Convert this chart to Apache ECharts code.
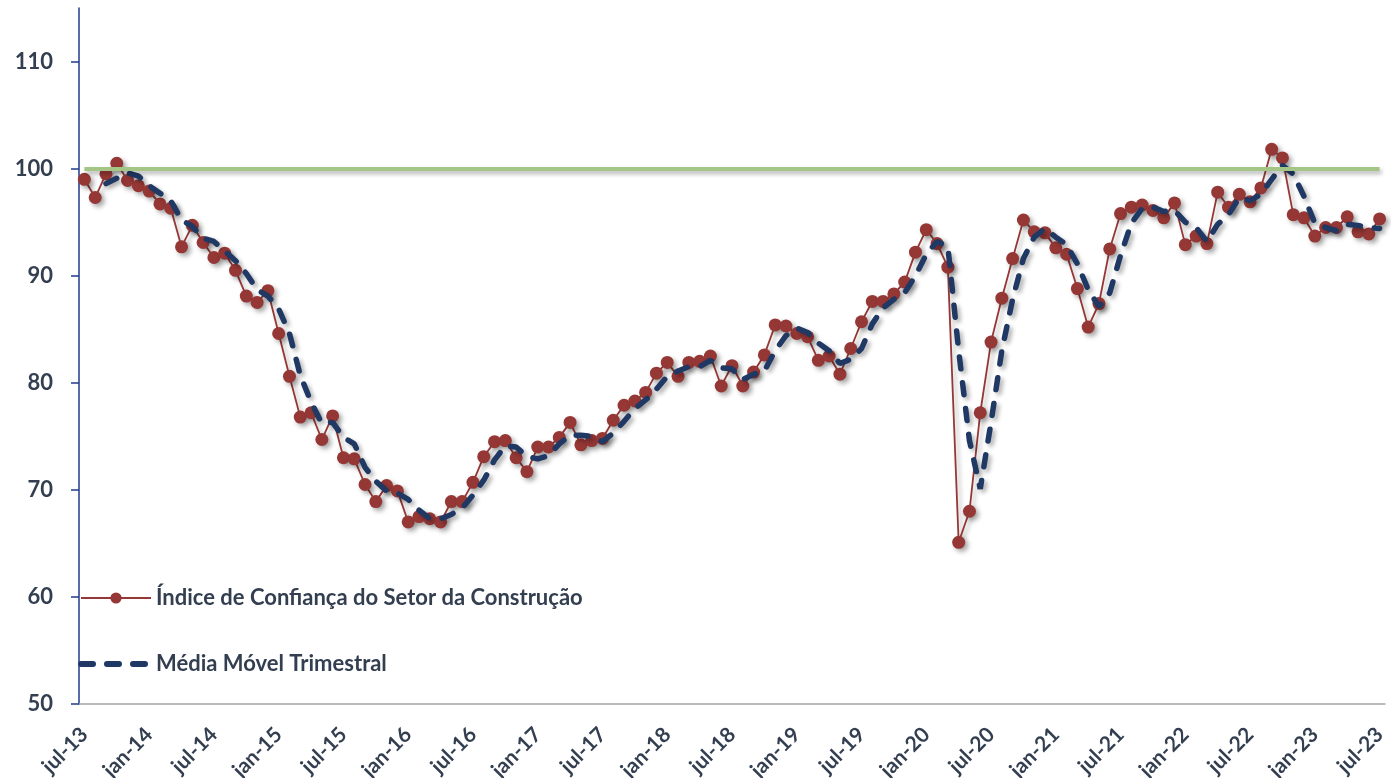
<!DOCTYPE html>
<html>
<head>
<meta charset="utf-8">
<script src="https://cdn.jsdelivr.net/npm/echarts@6/dist/echarts.min.js"></script>
<style>
html,body{margin:0;padding:0;background:#fff;}
#chart{width:1391px;height:778px;}
</style>
</head>
<body>
<div id="chart"></div>
<script>
// meses em português, série mensal de jul-13 a jul-23
var meses = ['jan','fev','mar','abr','mai','jun','jul','ago','set','out','nov','dez'];
var categorias = [];
for (var k = 0; k < 121; k++) {
	var m = (6 + k) % 12;
	var a = 13 + Math.floor((6 + k) / 12);
	categorias.push(meses[m] + '-' + a);
}

// Índice de Confiança do Setor da Construção
var indice = [
	99.0, 97.3, 99.5, 100.5, 98.9, 98.4, 97.9, 96.7, 96.3, 92.7, 94.7, 93.1,
	91.7, 92.1, 90.5, 88.1, 87.5, 88.6, 84.6, 80.6, 76.8, 77.2, 74.7, 76.9,
	73.0, 72.9, 70.5, 68.9, 70.4, 69.9, 67.0, 67.5, 67.3, 67.0, 68.9, 68.9,
	70.7, 73.1, 74.5, 74.6, 73.0, 71.7, 74.0, 74.0, 74.9, 76.3, 74.2, 74.6,
	74.8, 76.5, 77.9, 78.3, 79.1, 80.9, 81.9, 80.6, 81.9, 82.0, 82.5, 79.7,
	81.6, 79.7, 81.0, 82.6, 85.4, 85.3, 84.6, 84.3, 82.1, 82.5, 80.8, 83.2,
	85.7, 87.6, 87.6, 88.3, 89.4, 92.2, 94.3, 93.0, 90.8, 65.1, 68.0, 77.2,
	83.8, 87.9, 91.6, 95.2, 94.1, 94.0, 92.6, 92.0, 88.8, 85.2, 87.4, 92.5,
	95.8, 96.4, 96.6, 96.1, 95.4, 96.8, 92.9, 93.7, 93.0, 97.8, 96.4, 97.6,
	96.9, 98.2, 101.8, 101.0, 95.7, 95.4, 93.7, 94.5, 94.5, 95.5, 94.1, 93.9,
	95.3
];

// Média Móvel Trimestral
var media = [
	'-', '-', 98.6, 99.1, 99.6, 99.3, 98.4, 97.7, 97.0, 95.2, 94.6, 93.5,
	93.2, 92.3, 91.4, 90.2, 88.7, 88.1, 86.9, 84.6, 80.7, 78.2, 76.2, 76.3,
	74.9, 74.3, 72.1, 70.8, 69.9, 69.7, 69.1, 68.1, 67.3, 67.3, 67.7, 68.3,
	69.5, 70.9, 72.8, 74.1, 74.0, 73.1, 72.9, 73.2, 74.3, 75.1, 75.1, 75.0,
	74.5, 75.3, 76.4, 77.6, 78.4, 79.4, 80.6, 81.1, 81.5, 81.5, 82.1, 81.4,
	81.3, 80.3, 80.8, 81.1, 83.0, 84.4, 85.1, 84.7, 83.7, 83.0, 81.8, 82.2,
	83.2, 85.5, 87.0, 87.8, 88.4, 90.0, 92.0, 93.2, 92.7, 83.0, 74.6, 70.1,
	76.3, 83.0, 87.8, 91.6, 93.6, 94.4, 93.6, 92.9, 91.1, 88.7, 87.1, 88.4,
	91.9, 94.9, 96.3, 96.4, 96.0, 96.1, 95.0, 94.5, 93.2, 94.8, 95.7, 97.3,
	97.0, 97.6, 99.0, 100.3, 99.5, 97.4, 94.9, 94.5, 94.2, 94.8, 94.7, 94.5,
	94.4
];

var referencia = 100;
var yTicks = [50, 60, 70, 80, 90, 100, 110];

var corTexto = '#333f50';
var fonte = 'Lato, "Open Sans", sans-serif';
var nomeIndice = 'Índice de Confiança do Setor da Construção';
var nomeMedia = 'Média Móvel Trimestral';

var myChart = echarts.init(document.getElementById('chart'));

var option = {
	animation: false,
	backgroundColor: '#fff',
	grid: { left: 79, right: 6, top: 8, bottom: 74, outerBoundsMode: 'none', containLabel: false },
	legend: {
		orient: 'vertical',
		left: 78,
		top: 587,
		padding: 0,
		itemGap: 44,
		itemWidth: 70,
		itemHeight: 14,
		textStyle: { color: corTexto, fontFamily: fonte, fontWeight: 'bold', fontSize: 22 },
		data: [
			{ name: nomeIndice },
			{
				name: nomeMedia,
				itemStyle: { opacity: 0 },
				lineStyle: { width: 6, type: [12, 14], cap: 'round' }
			}
		]
	},
	xAxis: {
		type: 'category',
		data: categorias,
		boundaryGap: true,
		axisLine: { lineStyle: { color: '#a6a6a6', width: 1.5 } },
		axisTick: { interval: 5, length: 8, lineStyle: { color: '#a6a6a6', width: 1.5 } },
		axisLabel: {
			interval: 5,
			rotate: 45,
			margin: 27,
			color: corTexto,
			fontFamily: fonte,
			fontWeight: 'bold',
			fontSize: 21
		},
		splitLine: { show: false }
	},
	yAxis: {
		type: 'value',
		min: 50,
		max: 115,
		interval: 10,
		axisLine: { show: true, lineStyle: { color: '#1f3b8c', width: 1.5 } },
		axisTick: { show: true, length: 8, customValues: yTicks, lineStyle: { color: '#1f3b8c', width: 1.5 } },
		axisLabel: {
			customValues: yTicks,
			margin: 26,
			color: corTexto,
			fontFamily: fonte,
			fontWeight: 'bold',
			fontSize: 22
		},
		splitLine: { show: false }
	},
	series: [
		{
			name: nomeIndice,
			type: 'line',
			data: indice,
			symbol: 'circle',
			symbolSize: 13,
			showAllSymbol: true,
			color: '#953735',
			lineStyle: {
				width: 1.8,
				color: '#953735',
				shadowColor: 'rgba(0,0,0,0.3)',
				shadowBlur: 4,
				shadowOffsetX: 3,
				shadowOffsetY: 3
			},
			itemStyle: {
				color: '#953735',
				shadowColor: 'rgba(0,0,0,0.35)',
				shadowBlur: 5,
				shadowOffsetX: 3,
				shadowOffsetY: 3
			},
			markLine: {
				silent: true,
				symbol: 'none',
				label: { show: false },
				lineStyle: {
					type: 'solid',
					color: '#a3c585',
					width: 4,
					shadowColor: 'rgba(0,0,0,0.3)',
					shadowBlur: 4,
					shadowOffsetX: 2,
					shadowOffsetY: 3
				},
				data: [[
					{ coord: [categorias[0], referencia] },
					{ coord: [categorias[categorias.length - 1], referencia] }
				]]
			},
			z: 2
		},
		{
			name: nomeMedia,
			type: 'line',
			data: media,
			symbol: 'none',
			color: '#1f3864',
			lineStyle: {
				width: 5.5,
				color: '#1f3864',
				type: [12, 14],
				cap: 'round',
				shadowColor: 'rgba(0,0,0,0.3)',
				shadowBlur: 4,
				shadowOffsetX: 3,
				shadowOffsetY: 3
			},
			z: 3
		}
	]
};

myChart.setOption(option);
</script>
</body>
</html>
